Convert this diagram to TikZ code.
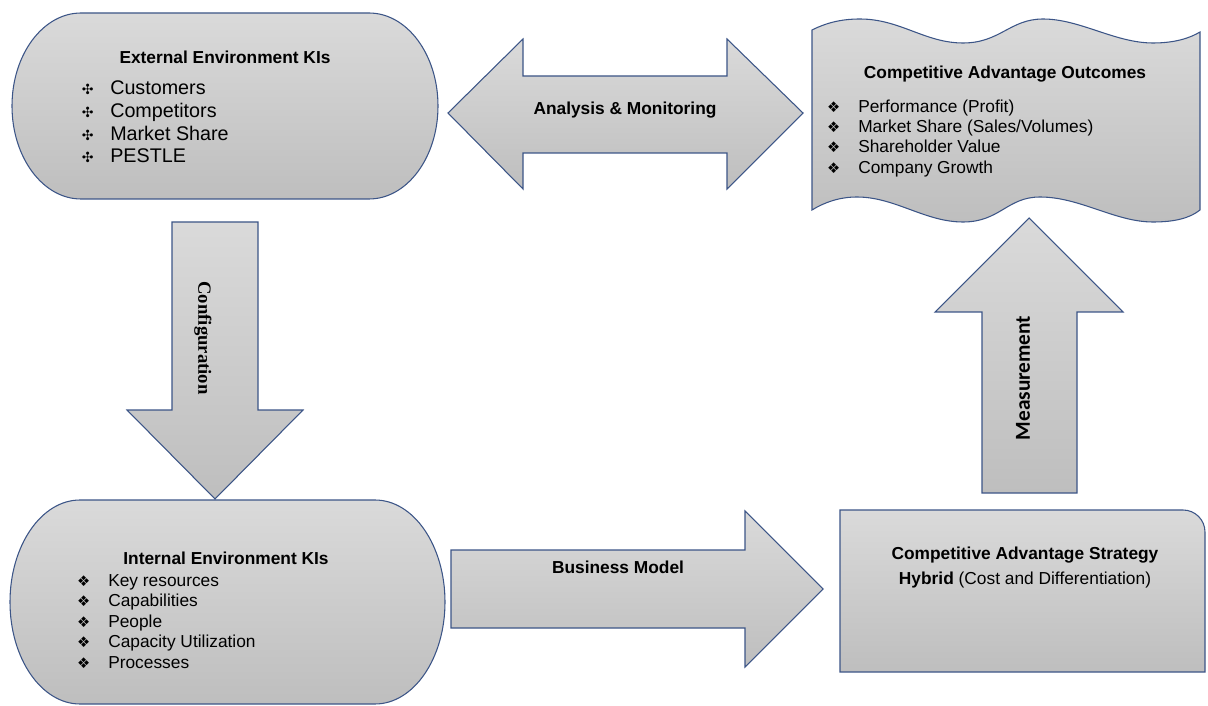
\documentclass[tikz,border=0pt]{standalone}
\usepackage{fontspec}
\setmainfont{Liberation Sans}
\newfontfamily\symfont{DejaVu Sans}
\newfontfamily\romfont{Liberation Serif}
\newfontfamily\calfont{Carlito}
\usepackage{tikz}
\usetikzlibrary{positioning}
\definecolor{edgeblue}{RGB}{60,85,135}
\definecolor{shtop}{RGB}{218,218,218}
\definecolor{shbot}{RGB}{190,190,190}
\newcommand{\dotbul}{\llap{{\symfont\fontsize{10.5}{10.5}\selectfont ✣}\hspace{12.5pt}}}
\newcommand{\dmdbul}{\llap{{\symfont\fontsize{11}{11}\selectfont ❖}\hspace{13.5pt}}}

\begin{document}
\begin{tikzpicture}[x=0.75pt,y=-0.75pt,
  shp/.style={draw=edgeblue,line width=0.8pt,top color=shtop,bottom color=shbot},
  ttl/.style={font=\fontsize{13}{15}\selectfont\bfseries,inner sep=0pt},
  itm/.style={font=\fontsize{13}{15}\selectfont,anchor=base west,inner sep=0pt},
  bigitm/.style={itm,font=\fontsize{14.8}{17}\selectfont},
  lbl/.style={ttl}]
\useasboundingbox (0,0) rectangle (1208,706);

% shapes
\draw[shp] (81,13) -- (369,13) arc[start angle=-90,end angle=90,x radius=69,y radius=93]
  -- (81,199) arc[start angle=90,end angle=270,x radius=69,y radius=93] -- cycle;
\draw[shp] (80,500) -- (375,500) arc[start angle=-90,end angle=90,x radius=70,y radius=102]
  -- (80,704) arc[start angle=90,end angle=270,x radius=70,y radius=102] -- cycle;
\draw[shp] (812,30) .. controls (828,22) and (843,19) .. (860,19)
  .. controls (900,19) and (925,43) .. (963,43)
  .. controls (1000,43) and (1010,19) .. (1043,19)
  .. controls (1080,19) and (1115,43) .. (1153,43)
  .. controls (1175,43) and (1190,38) .. (1200,32)
  -- (1200,210) .. controls (1190,218) and (1175,222) .. (1153,222)
  .. controls (1115,222) and (1080,197) .. (1040,197)
  .. controls (1007,197) and (1000,222) .. (963,222)
  .. controls (925,222) and (895,197) .. (857,197)
  .. controls (840,197) and (825,202) .. (812,210) -- cycle;
\draw[shp] (840,510) -- (1183,510) arc[start angle=-90,end angle=0,radius=22]
  -- (1205,672) -- (840,672) -- cycle;

% block arrows
\draw[shp] (448,113) -- (523,39) -- (523,76) -- (727,76) -- (727,39) -- (803,113)
  -- (727,189) -- (727,153) -- (523,153) -- (523,189) -- cycle;
\draw[shp] (172,222) -- (258,222) -- (258,410) -- (303,410) -- (215,499)
  -- (127,410) -- (172,410) -- cycle;
\draw[shp] (982,493) -- (982,312) -- (935,312) -- (1029,218) -- (1123,312)
  -- (1077,312) -- (1077,493) -- cycle;
\draw[shp] (451,550) -- (745,550) -- (745,511) -- (823,589) -- (745,667)
  -- (745,628) -- (451,628) -- cycle;

\node[ttl] (exttitle) at (225,57) {External Environment KIs};
\node[bigitm] (ext1) at (110,95)  {\dotbul Customers};
\node[bigitm] (ext2) at (110,118) {\dotbul Competitors};
\node[bigitm] (ext3) at (110,141) {\dotbul Market Share};
\node[bigitm] (ext4) at (110,163) {\dotbul PESTLE};

\node[ttl] (outtitle) at (1005,74) {Competitive Advantage Outcomes};
\node[itm] (out1) at (858,112.5) {\dmdbul Performance (Profit)};
\node[itm] (out2) at (858,132.5) {\dmdbul Market Share (Sales/Volumes)};
\node[itm] (out3) at (858,152.5) {\dmdbul Shareholder Value};
\node[itm] (out4) at (858,173.5) {\dmdbul Company Growth};

\node[ttl] (inttitle) at (226,558) {Internal Environment KIs};
\node[itm] (int1) at (108,586.5) {\dmdbul Key resources};
\node[itm] (int2) at (108,606.5) {\dmdbul Capabilities};
\node[itm] (int3) at (108,627.5) {\dmdbul People};
\node[itm] (int4) at (108,647.5) {\dmdbul Capacity Utilization};
\node[itm] (int5) at (108,668.5) {\dmdbul Processes};

\node[ttl] (strattitle) at (1025,555) {Competitive Advantage Strategy};
\node[inner sep=0pt,font=\fontsize{13}{15}\selectfont] (stratsub) at (1025,580)
  {\textbf{Hybrid} (Cost and Differentiation)};

\node[lbl] (analysis) at (625,110) {Analysis \& Monitoring};
\node[lbl] (business) at (618,567) {Business Model};
\node[inner sep=0pt,rotate=-90,font=\fontsize{14}{16}\selectfont\romfont\bfseries]
  (config) at (203,338) {Configuration};
\node[inner sep=0pt,rotate=90,font=\fontsize{16}{18}\selectfont\calfont\bfseries]
  (measure) at (1023,378) {Measurement};
\end{tikzpicture}
\end{document}
